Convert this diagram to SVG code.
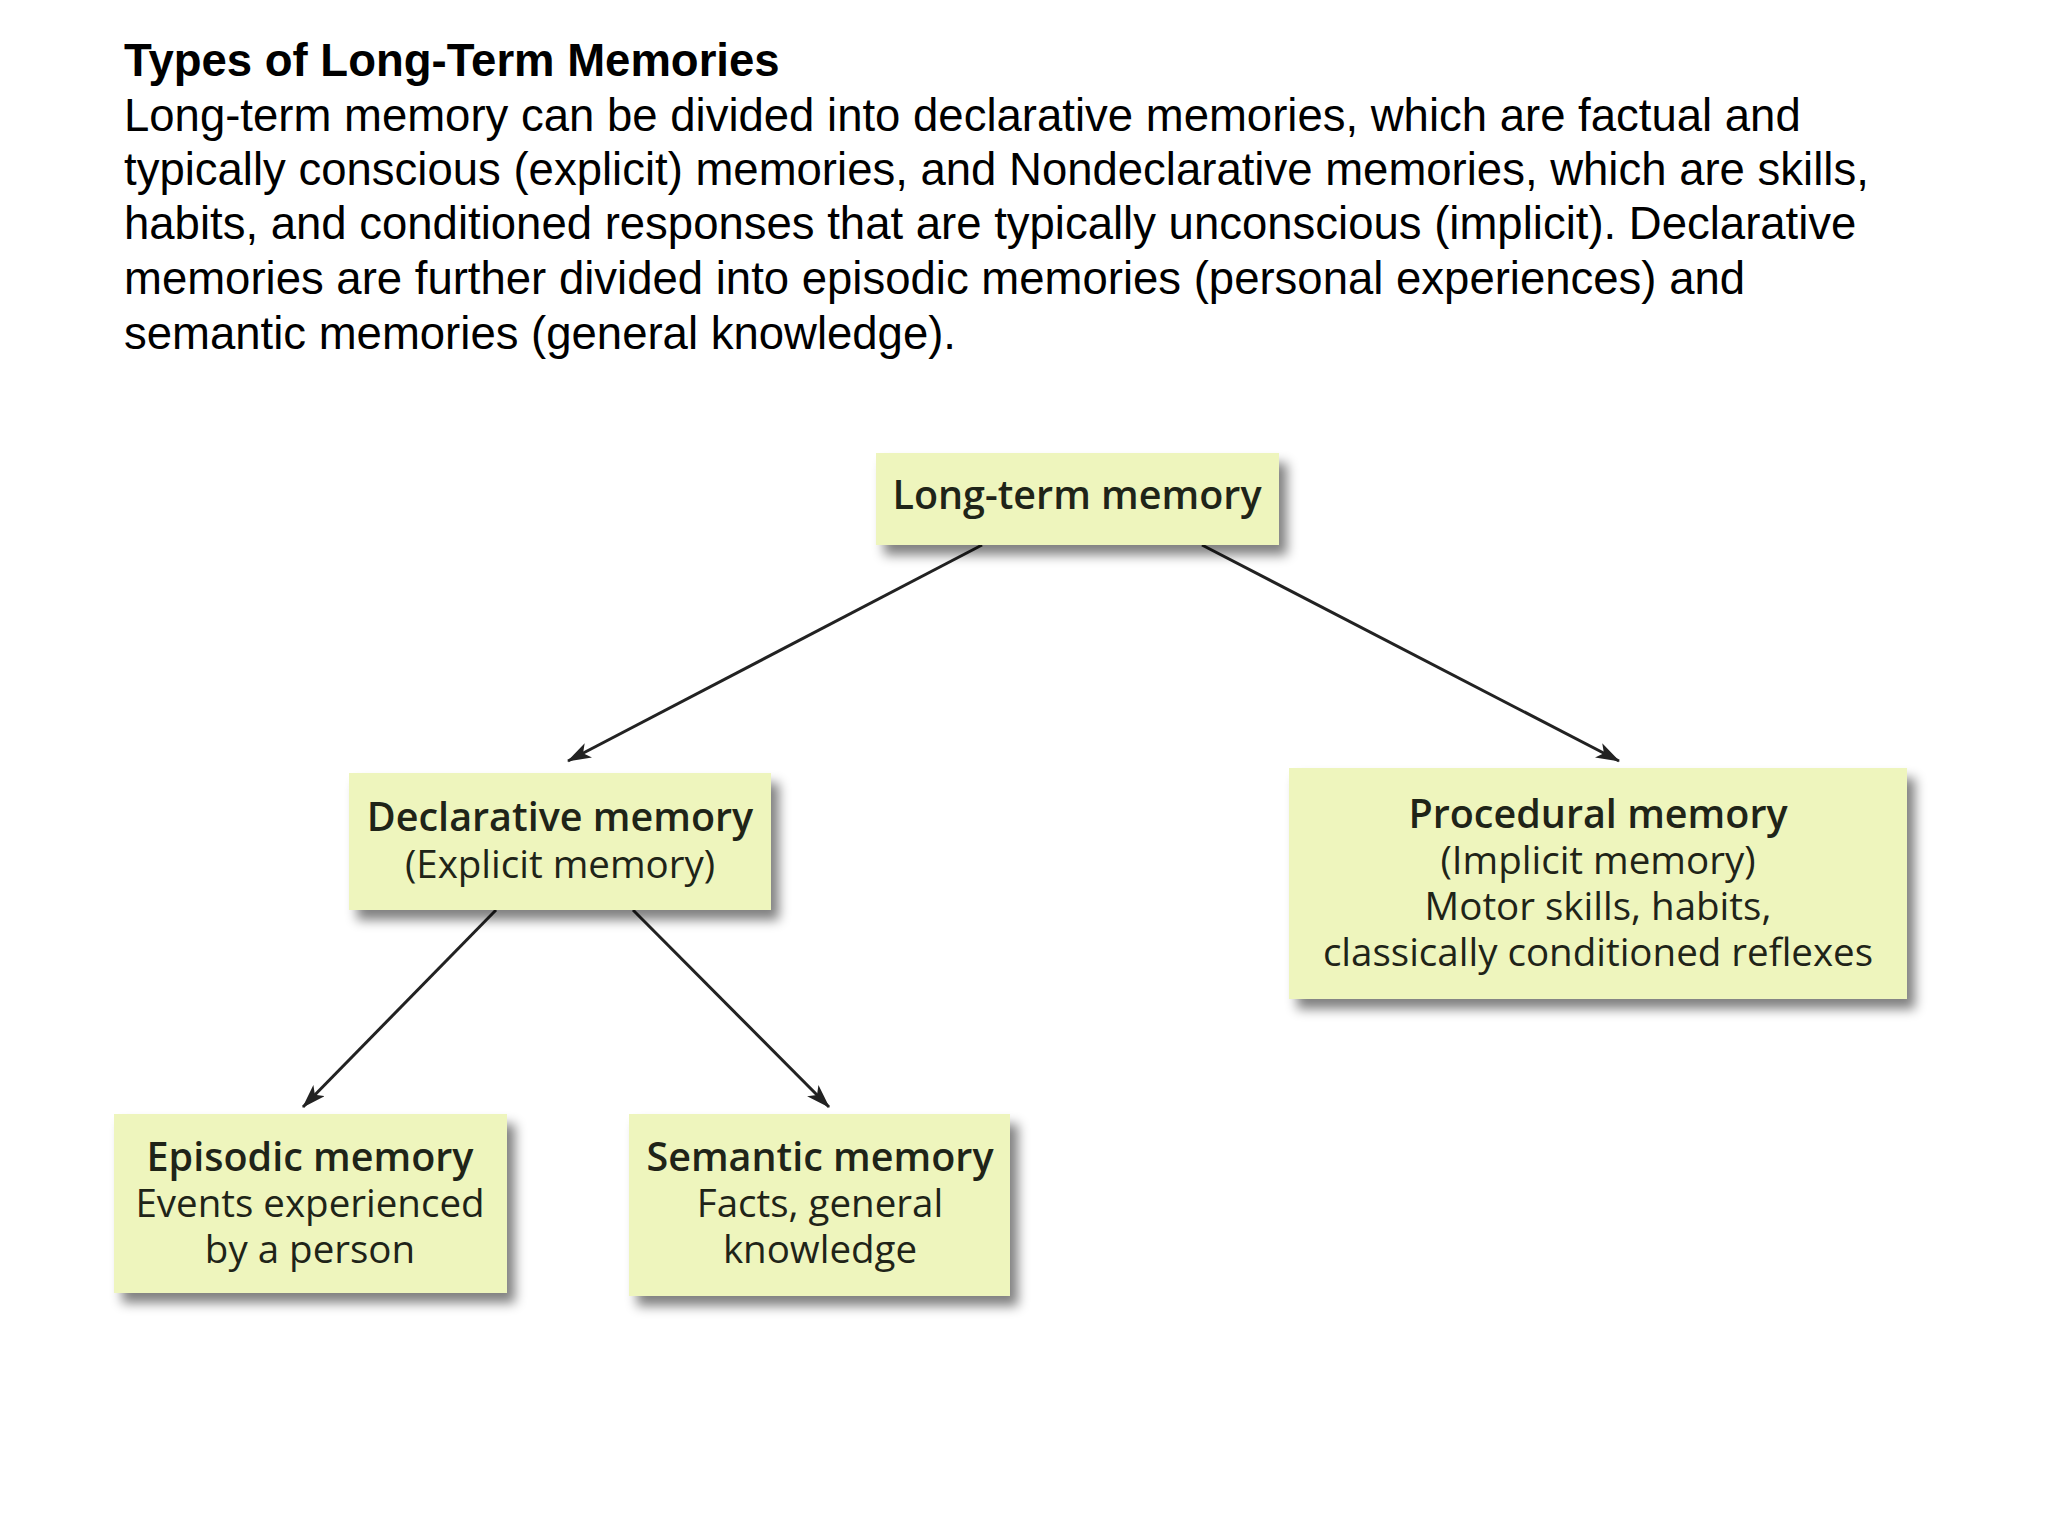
<svg xmlns="http://www.w3.org/2000/svg" width="2048" height="1536" viewBox="0 0 2048 1536">
<defs>
<filter id="sh" x="-10%" y="-20%" width="130%" height="160%"><feGaussianBlur in="SourceAlpha" stdDeviation="6"/><feOffset dx="8" dy="10"/><feComponentTransfer><feFuncA type="linear" slope="0.5"/></feComponentTransfer><feMerge><feMergeNode/><feMergeNode in="SourceGraphic"/></feMerge></filter>
<marker id="ah" viewBox="0 0 24 16" refX="23" refY="8" markerWidth="24" markerHeight="16" markerUnits="userSpaceOnUse" orient="auto"><path d="M0,0 L24,8 L0,16 L6,8 Z" fill="#222"/></marker>
<style>
.hd{font-family:"Liberation Sans",Arial,sans-serif;font-size:45.5px;fill:#000}
.box{fill:#eef5bd;filter:url(#sh)}
.t{font-family:"Open Sans","Noto Sans",sans-serif;font-size:38.5px;fill:#1f2418;text-anchor:middle}
.b{font-weight:600;font-size:39.5px}
.c{stroke:#222;stroke-width:3;fill:none;marker-end:url(#ah)}
</style>
</defs>
<rect width="2048" height="1536" fill="#fff"/>
<g id="header">
<text class="hd" x="124" y="76" font-weight="bold">Types of Long-Term Memories</text>
<text class="hd" x="124" y="131">Long-term memory can be divided into declarative memories, which are factual and</text>
<text class="hd" x="124" y="185">typically conscious (explicit) memories, and Nondeclarative memories, which are skills,</text>
<text class="hd" x="124" y="239">habits, and conditioned responses that are typically unconscious (implicit). Declarative</text>
<text class="hd" x="124" y="294">memories are further divided into episodic memories (personal experiences) and</text>
<text class="hd" x="124" y="349">semantic memories (general knowledge).</text>
</g>
<g id="connectors">
<line class="c" x1="982" y1="545" x2="568" y2="761"/>
<line class="c" x1="1202" y1="545" x2="1619" y2="761"/>
<line class="c" x1="496" y1="910" x2="303" y2="1107"/>
<line class="c" x1="633" y1="910" x2="829" y2="1107"/>
</g>
<g id="ltm"><rect class="box" x="876" y="453" width="403" height="92"/>
<text class="t b" x="1077" y="509">Long-term memory</text></g>
<g id="declarative"><rect class="box" x="349" y="773" width="422" height="137"/>
<text class="t b" x="560" y="831">Declarative memory</text>
<text class="t" x="560" y="878">(Explicit memory)</text></g>
<g id="procedural"><rect class="box" x="1289" y="768" width="618" height="231"/>
<text class="t b" x="1598" y="828">Procedural memory</text>
<text class="t" x="1598" y="874">(Implicit memory)</text>
<text class="t" x="1598" y="920">Motor skills, habits,</text>
<text class="t" x="1598" y="966">classically conditioned reflexes</text></g>
<g id="episodic"><rect class="box" x="114" y="1114" width="393" height="179"/>
<text class="t b" x="310" y="1171">Episodic memory</text>
<text class="t" x="310" y="1217">Events experienced</text>
<text class="t" x="310" y="1263">by a person</text></g>
<g id="semantic"><rect class="box" x="629" y="1114" width="381" height="182"/>
<text class="t b" x="820" y="1171">Semantic memory</text>
<text class="t" x="820" y="1217">Facts, general</text>
<text class="t" x="820" y="1263">knowledge</text></g>
</svg>
